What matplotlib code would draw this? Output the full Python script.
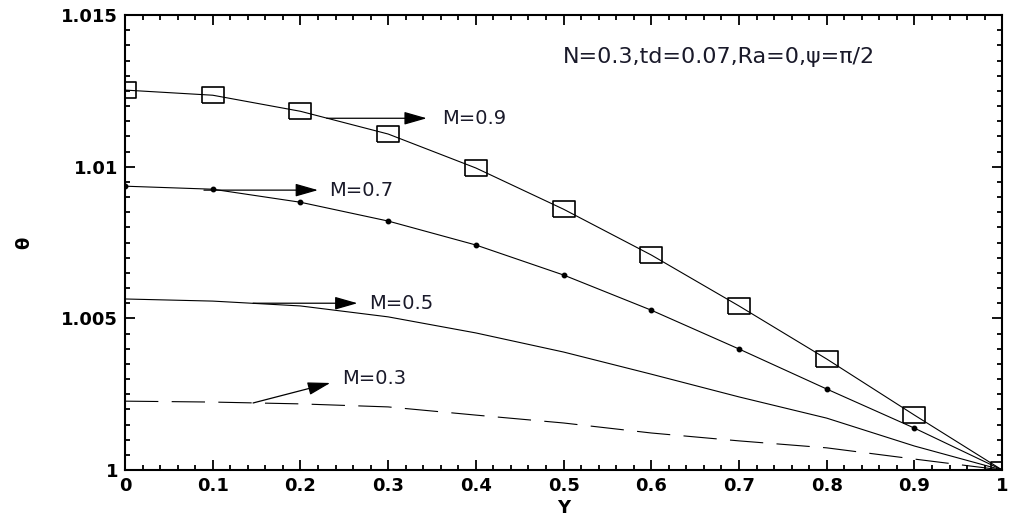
import numpy as np
import matplotlib.pyplot as plt
from matplotlib.ticker import MultipleLocator, FixedFormatter, FixedLocator

plt.rcParams['font.family'] = ['DejaVu Sans']

# data
Y = [0, 0.1, 0.2, 0.3, 0.4, 0.5, 0.6, 0.7, 0.8, 0.9, 1.0]
theta_m09 = [1.01253, 1.01236, 1.01183, 1.01108, 1.00996, 1.00860,
             1.00709, 1.00541, 1.00366, 1.00181, 1.00000]
theta_m07 = [1.00936, 1.00926, 1.00883, 1.00821, 1.00742, 1.00643,
             1.00527, 1.00399, 1.00267, 1.00138, 1.00000]
theta_m05 = [1.00564, 1.00557, 1.00541, 1.00505, 1.00452, 1.00389,
             1.00316, 1.00241, 1.00171, 1.00079, 1.00000]
theta_m03 = [1.00227, 1.00224, 1.00218, 1.00208, 1.00181, 1.00155,
             1.00122, 1.00096, 1.00073, 1.00036, 1.00000]

xticks = [0, 0.1, 0.2, 0.3, 0.4, 0.5, 0.6, 0.7, 0.8, 0.9, 1]
xticklabels = ['0', '0.1', '0.2', '0.3', '0.4', '0.5', '0.6', '0.7', '0.8', '0.9', '1']
yticks = [1.0, 1.005, 1.01, 1.015]
yticklabels = ['1', '1.005', '1.01', '1.015']

fig = plt.figure(figsize=(10.09, 5.18), dpi=100)
ax = fig.add_axes([0.1239, 0.0927, 0.8693, 0.878])

rect = [(-1.35, -1), (1.35, -1), (1.35, 1), (-1.35, 1), (-1.35, -1)]
ax.plot(Y, theta_m09, color='black', lw=0.8, marker=rect, ms=16,
        mfc='none', mec='black', mew=1.2)
ax.plot(Y, theta_m07, color='black', lw=0.8, marker='o', ms=3.2,
        mfc='black', mec='black')
ax.plot(Y, theta_m05, color='black', lw=0.8)
ax.plot(Y, theta_m03, color='black', lw=0.8, dashes=(30, 12))

ax.set_xlim(0, 1)
ax.set_ylim(1.0, 1.015)

ax.xaxis.set_major_locator(FixedLocator(xticks))
ax.xaxis.set_major_formatter(FixedFormatter(xticklabels))
ax.yaxis.set_major_locator(FixedLocator(yticks))
ax.yaxis.set_major_formatter(FixedFormatter(yticklabels))
ax.xaxis.set_minor_locator(MultipleLocator(0.02))
ax.yaxis.set_minor_locator(MultipleLocator(0.0005))
ax.tick_params(which='both', direction='in', top=True, right=True, width=1.3)
ax.tick_params(which='major', length=7, labelsize=13, pad=5)
ax.tick_params(which='minor', length=3.5)
for lab in ax.get_xticklabels() + ax.get_yticklabels():
    lab.set_fontweight('bold')
for sp in ax.spines.values():
    sp.set_linewidth(1.5)

ax.set_xlabel('Y', fontsize=13, fontweight='bold', labelpad=3)
ax.set_ylabel('θ', fontsize=13, fontweight='bold', labelpad=20)

txtc = '#1a1a2a'
ax.text(0.4995, 1.01362, 'N=0.3,td=0.07,Ra=0,ψ=π/2', fontsize=16,
        ha='left', va='center', color=txtc)

arrow = dict(arrowstyle='-|>,head_length=0.7,head_width=0.2',
             color='black', lw=0.9, mutation_scale=20, shrinkA=0, shrinkB=0)
ax.annotate('', xy=(0.344, 1.0116), xytext=(0.230, 1.0116), arrowprops=arrow)
ax.text(0.362, 1.0116, 'M=0.9', fontsize=14, ha='left', va='center', color=txtc)
ax.annotate('', xy=(0.22, 1.00923), xytext=(0.09, 1.00923), arrowprops=arrow)
ax.text(0.233, 1.00923, 'M=0.7', fontsize=14, ha='left', va='center', color=txtc)
ax.annotate('', xy=(0.265, 1.0055), xytext=(0.146, 1.0055), arrowprops=arrow)
ax.text(0.278, 1.0055, 'M=0.5', fontsize=14, ha='left', va='center', color=txtc)
ax.annotate('', xy=(0.234, 1.00287), xytext=(0.146, 1.00221), arrowprops=arrow)
ax.text(0.248, 1.00303, 'M=0.3', fontsize=14, ha='left', va='center', color=txtc)

fig.savefig('out.png', dpi=100)
